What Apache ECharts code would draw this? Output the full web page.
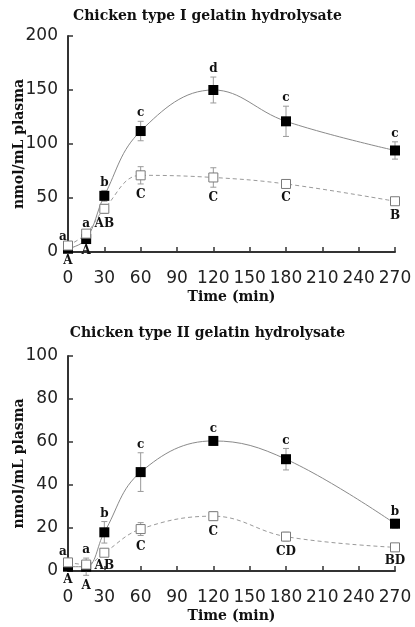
<!DOCTYPE html>
<html>
<head>
<meta charset="utf-8">
<script src="https://cdn.jsdelivr.net/npm/echarts@6/dist/echarts.min.js"></script>
<style>
html,body{margin:0;padding:0;background:#fff;}
#c{width:415px;height:627px;}
</style>
</head>
<body>
<div id="c"></div>
<script>
// ---- data ----
var times = [0, 15, 30, 60, 120, 180, 270];
var xTicks = [0, 30, 60, 90, 120, 150, 180, 210, 240, 270];

// Chicken type I gelatin hydrolysate
var t1Filled    = [3, 12, 52, 112, 150, 121, 94];
var t1FilledErr = [1, 1, 5, 9, 12, 14, 8];
var t1Open      = [6, 17, 40, 71, 69, 63, 47];
var t1OpenErr   = [1, 2, 4, 8, 9, 3, 3];
var t1Lower     = ['a', 'a', 'b', 'c', 'd', 'c', 'c'];
var t1Upper     = ['A', 'A', 'AB', 'C', 'C', 'C', 'B'];

// Chicken type II gelatin hydrolysate
var t2Filled    = [2, 2, 18, 46, 60.5, 52, 22];
var t2FilledErr = [1, 4, 5, 9, 2, 5, 2];
var t2Open      = [4, 3, 8.5, 19.5, 25.5, 16, 11];
var t2OpenErr   = [1, 1, 1, 3, 2, 2, 1];
var t2Lower     = ['a', 'a', 'b', 'c', 'c', 'c', 'b'];
var t2Upper     = ['A', 'A', 'AB', 'C', 'C', 'CD', 'BD'];

var titles = ['Chicken type I gelatin hydrolysate', 'Chicken type II gelatin hydrolysate'];

// ---- chart ----
var serif = 'DejaVu Serif';
var sans = 'DejaVu Sans';

function pairs(xs, ys) { return xs.map(function (x, i) { return [x, ys[i]]; }); }

function errData(fm, fe, om, oe) {
  return times.map(function (t, i) { return [t, fm[i], fe[i], om[i], oe[i]]; });
}

function makeRender(lower, upper) {
  return function (params, api) {
    var i = params.dataIndex;
    var t = api.value(0), fm = api.value(1), fe = api.value(2), om = api.value(3), oe = api.value(4);
    var children = [];
    var lineStyle = { stroke: '#9a9a9a', lineWidth: 1 };
    [[fm, fe], [om, oe]].forEach(function (p) {
      var top = api.coord([t, p[0] + p[1]]);
      var bot = api.coord([t, p[0] - p[1]]);
      children.push({ type: 'line', shape: { x1: top[0], y1: top[1], x2: bot[0], y2: bot[1] }, style: lineStyle });
      children.push({ type: 'line', shape: { x1: top[0] - 3, y1: top[1], x2: top[0] + 3, y2: top[1] }, style: lineStyle });
      children.push({ type: 'line', shape: { x1: bot[0] - 3, y1: bot[1], x2: bot[0] + 3, y2: bot[1] }, style: lineStyle });
    });
    var hi = Math.max(fm + fe, om + oe);
    var lo = Math.min(fm - fe, om - oe);
    var pHi = api.coord([t, hi]);
    var pLo = api.coord([t, lo]);
    var dx = (i === 0) ? -5 : 0;
    children.push({
      type: 'text', x: pHi[0] + dx, y: pHi[1] - 8,
      style: { text: lower[i], font: 'bold 12px "' + serif + '"', fill: '#111', align: 'center', verticalAlign: 'middle' }
    });
    children.push({
      type: 'text', x: pLo[0], y: pLo[1] + 11,
      style: { text: upper[i], font: 'bold 12px "' + serif + '"', fill: '#111', align: 'center', verticalAlign: 'middle' }
    });
    return { type: 'group', children: children };
  };
}

function xAxisCfg(gi) {
  return {
    gridIndex: gi, type: 'value', min: xTicks[0], max: xTicks[xTicks.length - 1], interval: 30,
    axisLine: { show: true, onZero: false, lineStyle: { color: '#333', width: 2 } },
    axisTick: { show: true, inside: true, length: 5, lineStyle: { color: '#333', width: 1.5 } },
    splitLine: { show: false },
    axisLabel: { margin: 18, fontSize: 17, fontFamily: sans, color: '#222' },
    name: 'Time (min)', nameLocation: 'middle', nameGap: 38, nameMoveOverlap: false,
    nameTextStyle: { fontFamily: serif, fontWeight: 'bold', fontSize: 14, color: '#111' }
  };
}

function yAxisCfg(gi, max, interval) {
  return {
    gridIndex: gi, type: 'value', min: 0, max: max, interval: interval,
    axisLine: { show: true, lineStyle: { color: '#333', width: 2 } },
    axisTick: { show: true, inside: true, length: 5, lineStyle: { color: '#333', width: 1.5 } },
    splitLine: { show: false },
    axisLabel: { margin: 10, fontSize: 17, fontFamily: sans, color: '#222' },
    name: 'nmol/mL plasma', nameLocation: 'middle', nameGap: 42, nameRotate: 90, nameMoveOverlap: false,
    nameTextStyle: { fontFamily: serif, fontWeight: 'bold', fontSize: 14, color: '#111' }
  };
}

function seriesFor(gi, fm, fe, om, oe, lower, upper) {
  return [
    {
      type: 'custom', xAxisIndex: gi, yAxisIndex: gi, z: 1, silent: true,
      data: errData(fm, fe, om, oe), encode: { x: 0, y: 1 },
      renderItem: makeRender(lower, upper)
    },
    {
      type: 'line', xAxisIndex: gi, yAxisIndex: gi, z: 3, smooth: 0.4,
      data: pairs(times, fm), symbol: 'rect', symbolSize: 10,
      lineStyle: { color: '#8a8a8a', width: 1 },
      itemStyle: { color: '#000', borderColor: '#000', borderWidth: 0 }
    },
    {
      type: 'line', xAxisIndex: gi, yAxisIndex: gi, z: 4, smooth: 0.4,
      data: pairs(times, om), symbol: 'rect', symbolSize: 9,
      lineStyle: { color: '#9a9a9a', width: 1, type: [4, 3] },
      itemStyle: { color: '#fff', borderColor: '#7a7a7a', borderWidth: 1 }
    }
  ];
}

var chart = echarts.init(document.getElementById('c'), null, { renderer: 'canvas' });
chart.setOption({
  animation: false,
  backgroundColor: '#fff',
  title: [
    { text: titles[0], left: 'center', top: 4, textStyle: { fontFamily: serif, fontWeight: 'bold', fontSize: 14, color: '#111' } },
    { text: titles[1], left: 'center', top: 321, textStyle: { fontFamily: serif, fontWeight: 'bold', fontSize: 14, color: '#111' } }
  ],
  grid: [
    { left: 68, width: 327, top: 36, height: 216, containLabel: false, outerBoundsMode: 'none' },
    { left: 68, width: 327, top: 356, height: 215, containLabel: false, outerBoundsMode: 'none' }
  ],
  xAxis: [xAxisCfg(0), xAxisCfg(1)],
  yAxis: [yAxisCfg(0, 200, 50), yAxisCfg(1, 100, 20)],
  series: [].concat(
    seriesFor(0, t1Filled, t1FilledErr, t1Open, t1OpenErr, t1Lower, t1Upper),
    seriesFor(1, t2Filled, t2FilledErr, t2Open, t2OpenErr, t2Lower, t2Upper)
  )
});
</script>
</body>
</html>
